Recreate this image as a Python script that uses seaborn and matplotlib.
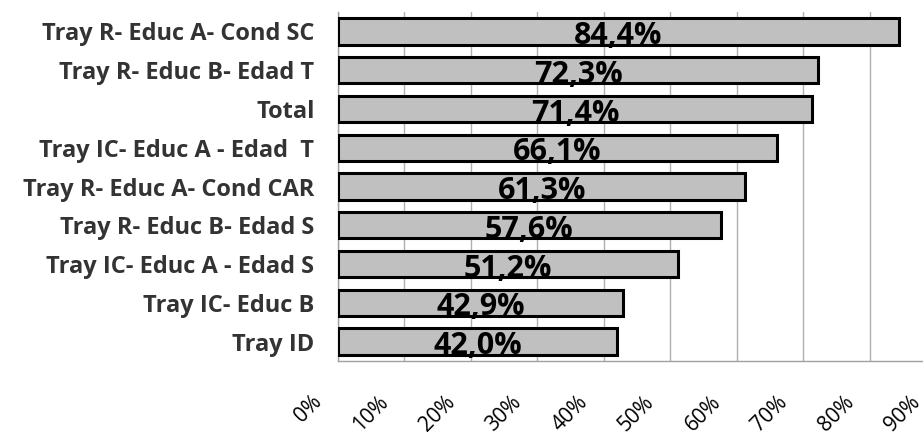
import matplotlib
matplotlib.use("Agg")
import matplotlib.pyplot as plt
import matplotlib.transforms as mtransforms
import seaborn as sns
import pandas as pd

categorias = ['Tray R- Educ A- Cond SC', 'Tray R- Educ B- Edad T', 'Total',
              'Tray IC- Educ A - Edad  T', 'Tray R- Educ A- Cond CAR',
              'Tray R- Educ B- Edad S', 'Tray IC- Educ A - Edad S',
              'Tray IC- Educ B', 'Tray ID']
valores = [84.4, 72.3, 71.4, 66.1, 61.3, 57.6, 51.2, 42.9, 42.0]
ticks_x = [0, 10, 20, 30, 40, 50, 60, 70, 80, 90]

df = pd.DataFrame({'cat': categorias, 'val': valores})

sns.set_style('white')
plt.rcParams['font.family'] = ['Open Sans', 'DejaVu Sans']

fig = plt.figure(figsize=(9.23, 4.36), dpi=100)
ax = fig.add_axes([338 / 923, 1 - 361 / 436, (936 - 338) / 923, (361 - 12) / 436])

sns.barplot(data=df, x='val', y='cat', orient='h', color='#c0c0c0',
            edgecolor='black', linewidth=2.2, width=0.68, ax=ax, zorder=3)

for i, v in enumerate(valores):
    ax.text(v / 2, i + 0.12, f'{v:.1f}%'.replace('.', ','), ha='center', va='center',
            fontsize=22, fontweight='bold', color='black', zorder=4)

ax.set_xlim(0, 90)
ax.set_ylim(len(categorias) - 0.5, -0.5)
ax.set_xticks(ticks_x)
ax.set_xticklabels([])
# etiquetas del eje x giradas, desplazadas como en el original
trans = mtransforms.blended_transform_factory(ax.transData, ax.transAxes)
trans = trans + mtransforms.ScaledTranslation(-19 / 100, -38 / 100, fig.dpi_scale_trans)
for t in ticks_x:
    ax.text(t, 0, f'{t}%', transform=trans, rotation=45, ha='right', va='center',
            rotation_mode='anchor', fontsize=15, color='black', clip_on=False)

ax.set_yticks(range(len(categorias)))
ax.set_yticklabels(categorias, fontsize=17, fontweight='bold', color='#333333')
ax.set_yticks([i - 0.5 for i in range(len(categorias) + 1)], minor=True)
ax.tick_params(axis='y', which='major', length=0, pad=17)
ax.tick_params(axis='y', which='minor', length=6, color='#a0a0a0', width=1, direction='out')
ax.tick_params(axis='x', which='major', length=9, color='#a0a0a0', width=1, direction='out', pad=4)

ax.grid(axis='x', color='#b0b0b0', linewidth=1, zorder=0)
ax.set_axisbelow(True)
for s in ['top', 'right']:
    ax.spines[s].set_visible(False)
for s in ['left', 'bottom']:
    ax.spines[s].set_color('#a0a0a0')
    ax.spines[s].set_linewidth(1)
ax.set_xlabel('')
ax.set_ylabel('')

fig.savefig('out.png', dpi=100)
